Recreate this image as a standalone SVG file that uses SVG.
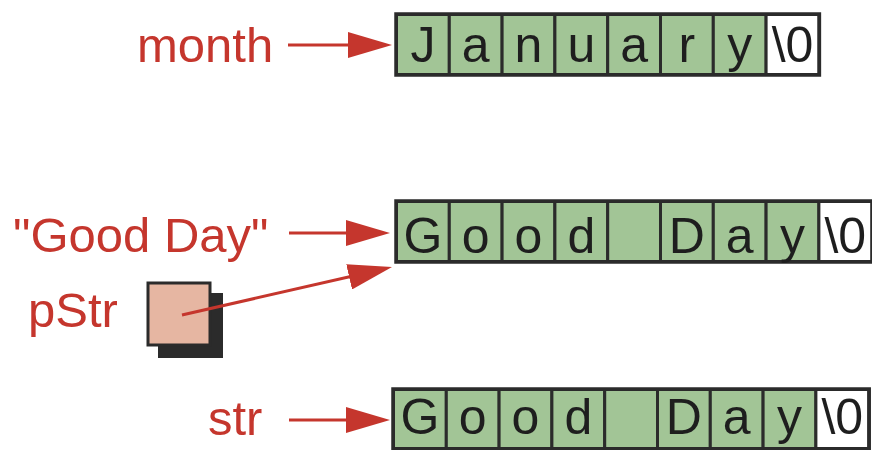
<svg xmlns="http://www.w3.org/2000/svg" width="872" height="450" viewBox="0 0 872 450">
<defs>
<style>
.lbl{font-family:"Liberation Sans",Arial,sans-serif;font-size:49px;fill:#c5362d}
.ch{font-family:"Liberation Sans",Arial,sans-serif;font-size:50px;fill:#1e1e1e;text-anchor:middle}
.cell{fill:#a2c596;stroke:#2b2b2b;stroke-width:3}
.nul{fill:#ffffff;stroke:#2b2b2b;stroke-width:3}
.frame{fill:none;stroke:#2b2b2b;stroke-width:3.5}
.arr{stroke:#c5362d;stroke-width:3;fill:none;marker-end:url(#ah)}
</style>
<marker id="ah" markerUnits="userSpaceOnUse" markerWidth="44" markerHeight="26" viewBox="0 0 44 26" refX="32" refY="13" orient="auto">
<path d="M0,0 L44,13 L0,26 z" fill="#c5362d"/>
</marker>
</defs>
<rect width="872" height="450" fill="#ffffff"/>

<g id="month-label"><text class="lbl" x="137" y="62">month</text></g>
<g id="goodday-label"><text class="lbl" x="13" y="252">"Good Day"</text></g>
<g id="pstr-label"><text class="lbl" x="28" y="327">pStr</text></g>
<g id="str-label"><text class="lbl" x="208" y="435">str</text></g>

<g id="pStr-box">
<rect x="158" y="293" width="65" height="65" fill="#2b2b2b"/>
<rect x="148" y="283" width="62" height="62" fill="#e6b6a2" stroke="#2b2b2b" stroke-width="3"/>
</g>

<g id="month-array">
<rect class="cell" x="396.5" y="14.5" width="52.8" height="60"/>
<rect class="cell" x="449.3" y="14.5" width="52.8" height="60"/>
<rect class="cell" x="502.1" y="14.5" width="52.8" height="60"/>
<rect class="cell" x="554.9" y="14.5" width="52.8" height="60"/>
<rect class="cell" x="607.7" y="14.5" width="52.8" height="60"/>
<rect class="cell" x="660.5" y="14.5" width="52.8" height="60"/>
<rect class="cell" x="713.3" y="14.5" width="52.8" height="60"/>
<rect class="nul" x="766.1" y="14.5" width="52.8" height="60"/>
<rect class="frame" x="396" y="14" width="423.4" height="61"/>
<text class="ch" x="422.9" y="62">J</text>
<text class="ch" x="475.7" y="62">a</text>
<text class="ch" x="528.5" y="62">n</text>
<text class="ch" x="581.3" y="62">u</text>
<text class="ch" x="634.1" y="62">a</text>
<text class="ch" x="686.9" y="62">r</text>
<text class="ch" x="739.7" y="62">y</text>
<text class="ch" x="792.5" y="62">\0</text>
</g>

<g id="goodday-array">
<rect class="cell" x="396.5" y="201.5" width="52.8" height="60"/>
<rect class="cell" x="449.3" y="201.5" width="52.8" height="60"/>
<rect class="cell" x="502.1" y="201.5" width="52.8" height="60"/>
<rect class="cell" x="554.9" y="201.5" width="52.8" height="60"/>
<rect class="cell" x="607.7" y="201.5" width="52.8" height="60"/>
<rect class="cell" x="660.5" y="201.5" width="52.8" height="60"/>
<rect class="cell" x="713.3" y="201.5" width="52.8" height="60"/>
<rect class="cell" x="766.1" y="201.5" width="52.8" height="60"/>
<rect class="nul" x="818.9" y="201.5" width="52.8" height="60"/>
<rect class="frame" x="396" y="201" width="477" height="61"/>
<text class="ch" x="422.9" y="253">G</text>
<text class="ch" x="475.7" y="253">o</text>
<text class="ch" x="528.5" y="253">o</text>
<text class="ch" x="581.3" y="253">d</text>
<text class="ch" x="686.9" y="253">D</text>
<text class="ch" x="739.7" y="253">a</text>
<text class="ch" x="792.5" y="253">y</text>
<text class="ch" x="845.3" y="253">\0</text>
</g>

<g id="str-array">
<rect class="cell" x="393.5" y="389.5" width="52.8" height="59"/>
<rect class="cell" x="446.3" y="389.5" width="52.8" height="59"/>
<rect class="cell" x="499.1" y="389.5" width="52.8" height="59"/>
<rect class="cell" x="551.9" y="389.5" width="52.8" height="59"/>
<rect class="cell" x="604.7" y="389.5" width="52.8" height="59"/>
<rect class="cell" x="657.5" y="389.5" width="52.8" height="59"/>
<rect class="cell" x="710.3" y="389.5" width="52.8" height="59"/>
<rect class="cell" x="763.1" y="389.5" width="52.8" height="59"/>
<rect class="nul" x="815.9" y="389.5" width="52.8" height="59"/>
<rect class="frame" x="393" y="389" width="476.2" height="60"/>
<text class="ch" x="419.9" y="434">G</text>
<text class="ch" x="472.7" y="434">o</text>
<text class="ch" x="525.5" y="434">o</text>
<text class="ch" x="578.3" y="434">d</text>
<text class="ch" x="683.9" y="434">D</text>
<text class="ch" x="736.7" y="434">a</text>
<text class="ch" x="789.5" y="434">y</text>
<text class="ch" x="842.3" y="434">\0</text>
</g>

<g id="connectors">
<line class="arr" x1="288" y1="45" x2="380" y2="45"/>
<line class="arr" x1="289" y1="233" x2="378" y2="233"/>
<line class="arr" x1="182" y1="315" x2="380.3" y2="269.7"/>
<line class="arr" x1="289" y1="420" x2="378" y2="420"/>
</g>
</svg>
